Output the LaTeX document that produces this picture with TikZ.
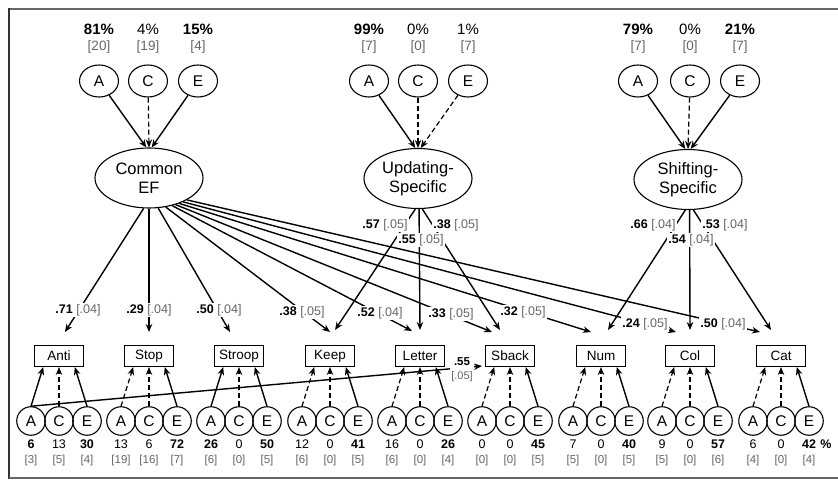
\documentclass[tikz,border=0pt]{standalone}
\usepackage{fontspec}
\setmainfont{Liberation Sans}
\usetikzlibrary{arrows.meta,shapes.geometric,calc}
\newcommand{\Ldg}[2]{\textbf{#1}~{\color{black!60}[#2]}}
\begin{document}
\begin{tikzpicture}[x=1pt,y=-1pt,
  lat/.style={ellipse, draw, line width=1.1pt, minimum width=39pt, minimum height=32pt, inner sep=0pt, font=\fontsize{15.5}{15.5}\selectfont},
  sm/.style={circle, draw, line width=1.1pt, minimum size=28.5pt, inner sep=0pt, font=\fontsize{15.5}{15.5}\selectfont},
  fac/.style={ellipse, draw, line width=1.1pt, minimum width=108pt, minimum height=60pt, inner sep=0pt, align=center, font=\fontsize{16.5}{19.5}\selectfont},
  task/.style={rectangle, draw, line width=1.1pt, minimum width=49pt, minimum height=21pt, inner sep=0pt, font=\fontsize{13.5}{13.5}\selectfont},
  sol/.style={line width=1.4pt, -{Stealth[length=8pt,width=6.5pt]}},
  dsh/.style={line width=1.2pt, dash pattern=on 5pt off 3pt, -{Stealth[length=8pt,width=6.5pt]}},
  lab/.style={fill=white, inner sep=1pt, font=\fontsize{12.5}{12.5}\selectfont},
  pctb/.style={font=\fontsize{15}{15}\selectfont\bfseries},
  pctn/.style={font=\fontsize{15}{15}\selectfont},
  brt/.style={font=\fontsize{13.5}{13.5}\selectfont, text=black!60},
  numb/.style={font=\fontsize{12.5}{12.5}\selectfont\bfseries},
  numn/.style={font=\fontsize{12.5}{12.5}\selectfont},
  brb/.style={font=\fontsize{11.5}{11.5}\selectfont, text=black!60}]
\useasboundingbox (0,0) rectangle (838,481);
% frame
\draw[line width=2.5pt, black!60] (9,9) -- (838,9);
\draw[line width=1.5pt, black!80] (9,8) -- (9,479);
\draw[line width=2pt, black!60] (9,478) -- (838,478);

% factors
\node[fac] (cef) at (149,178) {Common\\EF};
\node[fac] (upd) at (418,178.5) {Updating-\\Specific};
\node[fac] (shf) at (688,179.5) {Shifting-\\Specific};

% top ACE
\foreach \f/\xa/\xc/\xe/\es/\pa/\pc/\pe/\sa/\sc/\se/\ba/\bc/\bee in {
  cef/99/148/198/sol/81/4/15/pctb/pctn/pctb/20/19/4,
  upd/369/418/468/dsh/99/0/1/pctb/pctn/pctn/7/0/7,
  shf/638/690/740/sol/79/0/21/pctb/pctn/pctb/7/0/7}
{
  \node[lat] (\f-a) at (\xa,81) {A};
  \node[lat] (\f-c) at (\xc,81) {C};
  \node[lat] (\f-e) at (\xe,81) {E};
  \node[\sa] (\f-pa) at (\xa,29) {\pa\%};
  \node[\sc] (\f-pc) at (\xc,29) {\pc\%};
  \node[\se] (\f-pe) at (\xe,29) {\pe\%};
  \node[brt] (\f-ba) at (\xa,47) {[\ba]};
  \node[brt] (\f-bc) at (\xc,47) {[\bc]};
  \node[brt] (\f-be) at (\xe,47) {[\bee]};
  \draw[sol] (\f-a) -- (\f.95);
  \draw[dsh] (\f-c) -- (\f.90);
  \draw[\es] (\f-e) -- (\f.85);
}

% tasks and bottom ACE
\foreach \n/\t/\x/\as/\af/\av/\cv/\ev/\ab/\cb/\eb in {
 anti/Anti/59/sol/numb/6/13/30/3/5/4,
 stop/Stop/149/dsh/numn/13/6/72/19/16/7,
 stroop/Stroop/239/sol/numb/26/0/50/6/0/5,
 keep/Keep/330/dsh/numn/12/0/41/6/0/5,
 letter/Letter/420/dsh/numn/16/0/26/6/0/4,
 sback/Sback/510/dsh/numn/0/0/45/0/0/5,
 num/Num/601/dsh/numn/7/0/40/5/0/5,
 col/Col/690/dsh/numn/9/0/57/5/0/6,
 cat/Cat/781/dsh/numn/6/0/42/4/0/4}
{
 \node[task] (\n) at (\x,356) {\t};
 \node[sm] (\n-a) at (\x-28,421) {A};
 \node[sm] (\n-c) at (\x,421) {C};
 \node[sm] (\n-e) at (\x+28,421) {E};
 \node[\af] (\n-na) at (\x-28,444) {\av};
 \node[numn] (\n-nc) at (\x,444) {\cv};
 \node[numb] (\n-ne) at (\x+28,444) {\ev};
 \node[brb] (\n-ba) at (\x-28,461) {[\ab]};
 \node[brb] (\n-bc) at (\x,461) {[\cb]};
 \node[brb] (\n-be) at (\x+28,461) {[\eb]};
 \draw[\as] (\n-a.north) -- (\n.-145);
 \draw[dsh] (\n-c.north) -- (\n.south);
 \draw[sol] (\n-e.north) -- (\n.-35);
}
\node[numb] (pct) at (826,444) {\%};

% arrow tips above tasks
\coordinate (cAnti) at (65,332);
\coordinate (cStop) at (149,332);
\coordinate (cStroop) at (230,332);
\coordinate (cKeep) at (330,332);
\coordinate (cLetter) at (412,331);
\coordinate (cSback) at (492,332);
\coordinate (cNum) at (591,332);
\coordinate (cCol) at (676,332);
\coordinate (cCat) at (760,332);
\coordinate (uKeep) at (335,330);
\coordinate (uLetter) at (420,330);
\coordinate (uSback) at (500,330);
\coordinate (sNum) at (608,330);
\coordinate (sCol) at (690,330);
\coordinate (sCat) at (771,330);
\coordinate (sbk) at (482,366);

% Common EF loadings
\draw[sol] (cef.-100) -- (cAnti);
\draw[sol] (cef.-90) -- (cStop);
\draw[sol] (cef.-73) -- (cStroop);
\draw[sol] (cef.-60) -- (cKeep);
\draw[sol] (cef.-50) -- (cLetter);
\draw[sol] (cef.-45) -- (cSback);
\draw[sol] (cef.-40) -- (cNum);
\draw[sol] (cef.-35) -- (cCol);
\draw[sol] (cef.-30) -- (cCat);
% specific loadings
\draw[sol] (upd.-95) -- (uKeep);
\draw[sol] (upd.-88) -- (uLetter);
\draw[sol] (upd.-82) -- (uSback);
\draw[sol] (shf.-95) -- (sNum);
\draw[sol] (shf.-87) -- (sCol);
\draw[sol] (shf.-80) -- (sCat);
% correlated residual
\draw[sol] (anti-a.north) -- (sbk);

% labels
\node[lab] (l1) at (78,310) {\Ldg{.71}{.04}};
\node[lab] (l2) at (149,310) {\Ldg{.29}{.04}};
\node[lab] (l3) at (219,310) {\Ldg{.50}{.04}};
\node[lab] (l4) at (302,312) {\Ldg{.38}{.05}};
\node[lab] (l5) at (380,313) {\Ldg{.52}{.04}};
\node[lab] (l6) at (451,314) {\Ldg{.33}{.05}};
\node[lab] (l7) at (523,312) {\Ldg{.32}{.05}};
\node[lab] (l8) at (645,324) {\Ldg{.24}{.05}};
\node[lab] (l9) at (723,324) {\Ldg{.50}{.04}};
\node[lab] (u1) at (385,225) {\Ldg{.57}{.05}};
\node[lab] (u2) at (421,240) {\Ldg{.55}{.05}};
\node[lab] (u3) at (456,225) {\Ldg{.38}{.05}};
\node[lab] (s1) at (653,225) {\Ldg{.66}{.04}};
\node[lab] (s2) at (691,240) {\Ldg{.54}{.04}};
\node[lab] (s3) at (725,225) {\Ldg{.53}{.04}};
\node[lab, align=center, font=\fontsize{11.5}{14}\selectfont] (r1) at (462,370) {\textbf{.55}\\{\color{black!60}\fontsize{11}{11}\selectfont[.05]}};
\end{tikzpicture}
\end{document}
